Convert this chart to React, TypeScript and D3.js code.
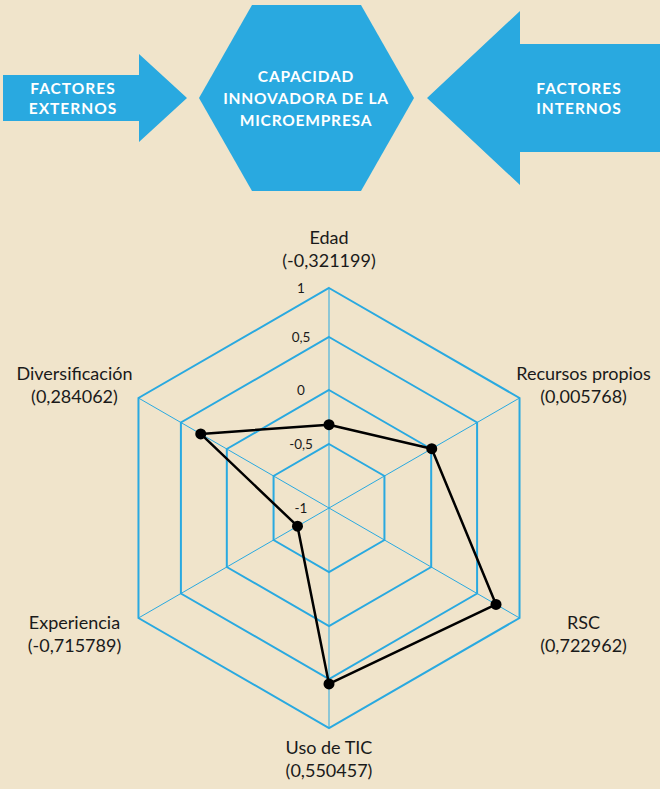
import React from "react";
import * as d3 from "d3";

// ---- data ----
const CATEGORIES = ["Edad", "Recursos propios", "RSC", "Uso de TIC", "Experiencia", "Diversificación"];
const VALUES = [-0.321199, 0.005768, 0.722962, 0.550457, -0.715789, 0.284062];
const TICKS = [-1, -0.5, 0, 0.5, 1];
const TICK_LABELS = ["-1", "-0,5", "0", "0,5", "1"];
const LEFT_ARROW_TEXT = ["FACTORES", "EXTERNOS"];
const CENTER_TEXT = ["CAPACIDAD", "INNOVADORA DE LA", "MICROEMPRESA"];
const RIGHT_ARROW_TEXT = ["FACTORES", "INTERNOS"];

// ---- layout ----
const W = 660, H = 789;
const BG = "#f0e4cb";
const BLUE = "#29a9e0";
const FONT = "Lato, 'Open Sans', sans-serif";
const CX = 329, CY = 508;
const RING_RADII = [0, 64, 118, 171, 220];

const r = d3.scaleLinear().domain(TICKS).range(RING_RADII);
const angle = d3.scalePoint<string>().domain(CATEGORIES).range([0, 2 * Math.PI * (5 / 6)]);

const radial = d3.lineRadial<number>().curve(d3.curveLinearClosed);

function polar(a: number, rad: number): [number, number] {
  return [CX + rad * Math.sin(a), CY - rad * Math.cos(a)];
}

const fmt = (v: number) => "(" + String(v).replace(".", ",") + ")";

export default function App() {
  const outerR = r(1);
  const ringPath = (t: number) =>
    radial.angle((_, i) => angle(CATEGORIES[i])!).radius(() => r(t))(CATEGORIES.map(() => 0))!;
  const dataPath = radial.angle((_, i) => angle(CATEGORIES[i])!).radius((d) => r(d))(VALUES)!;

  const labelPos = (a: number): { x: number; y: number } => {
    const [vx, vy] = polar(a, outerR);
    const s = Math.sin(a), c = Math.cos(a);
    if (Math.abs(s) < 0.01) {
      return c > 0 ? { x: vx, y: vy - 44 } : { x: vx, y: vy + 26 };
    }
    return { x: vx + Math.sign(s) * 64, y: vy + (c > 0 ? -18 : 11) };
  };

  return (
    <svg width={W} height={H} style={{ position: "absolute", left: 0, top: 0, display: "block" }} fontFamily={FONT}>
      <rect width={W} height={H} fill={BG} />
      {/* top diagram */}
      <polygon points="3,75 139,75 139,54 187,98 139,142 139,121 3,121" fill={BLUE} />
      <polygon points="199,98 252,5 361,5 414,98 361,191 252,191" fill={BLUE} />
      <polygon points="427,98 520,11 520,44 660,44 660,152 520,152 520,185" fill={BLUE} />
      {LEFT_ARROW_TEXT.map((t, i) => (
        <text key={"l" + i} x={73} y={93.5 + i * 20.5} textAnchor="middle" fill="#fff" fontWeight={700} fontSize={15.5} letterSpacing={1}>{t}</text>
      ))}
      {CENTER_TEXT.map((t, i) => (
        <text key={"c" + i} x={306} y={82 + i * 22} textAnchor="middle" fill="#fff" fontWeight={700} fontSize={15.5} letterSpacing={0.8}>{t}</text>
      ))}
      {RIGHT_ARROW_TEXT.map((t, i) => (
        <text key={"r" + i} x={579} y={93.5 + i * 20.5} textAnchor="middle" fill="#fff" fontWeight={700} fontSize={15.5} letterSpacing={1}>{t}</text>
      ))}

      {/* radar grid */}
      <g transform={`translate(${CX},${CY})`}>
        {TICKS.filter((t) => r(t) > 0).map((t) => (
          <path key={t} d={ringPath(t)} fill="none" stroke={BLUE} strokeWidth={2} />
        ))}
      </g>
      {CATEGORIES.map((c) => {
        const [x, y] = polar(angle(c)!, outerR);
        return <line key={c} x1={CX} y1={CY} x2={x} y2={y} stroke={BLUE} strokeWidth={1} />;
      })}
      {TICKS.map((t, i) => (
        <text key={"t" + i} x={CX - 28} y={CY - r(t) + 5} textAnchor="middle" fontSize={13.5} fill="#1a1a1a">{TICK_LABELS[i]}</text>
      ))}

      {/* data */}
      <g transform={`translate(${CX},${CY})`}>
        <path d={dataPath} fill="none" stroke="#000" strokeWidth={2.5} strokeLinejoin="round" />
      </g>
      {CATEGORIES.map((c, i) => {
        const [x, y] = polar(angle(c)!, r(VALUES[i]));
        return <circle key={c} cx={x} cy={y} r={5.5} fill="#000" />;
      })}

      {/* axis labels */}
      {CATEGORIES.map((c, i) => {
        const p = labelPos(angle(c)!);
        return (
          <g key={"lab" + c}>
            <text x={p.x} y={p.y} textAnchor="middle" fontSize={18} fill="#1a1a1a">{c}</text>
            <text x={p.x} y={p.y + 23} textAnchor="middle" fontSize={18} fill="#1a1a1a">{fmt(VALUES[i])}</text>
          </g>
        );
      })}
    </svg>
  );
}
